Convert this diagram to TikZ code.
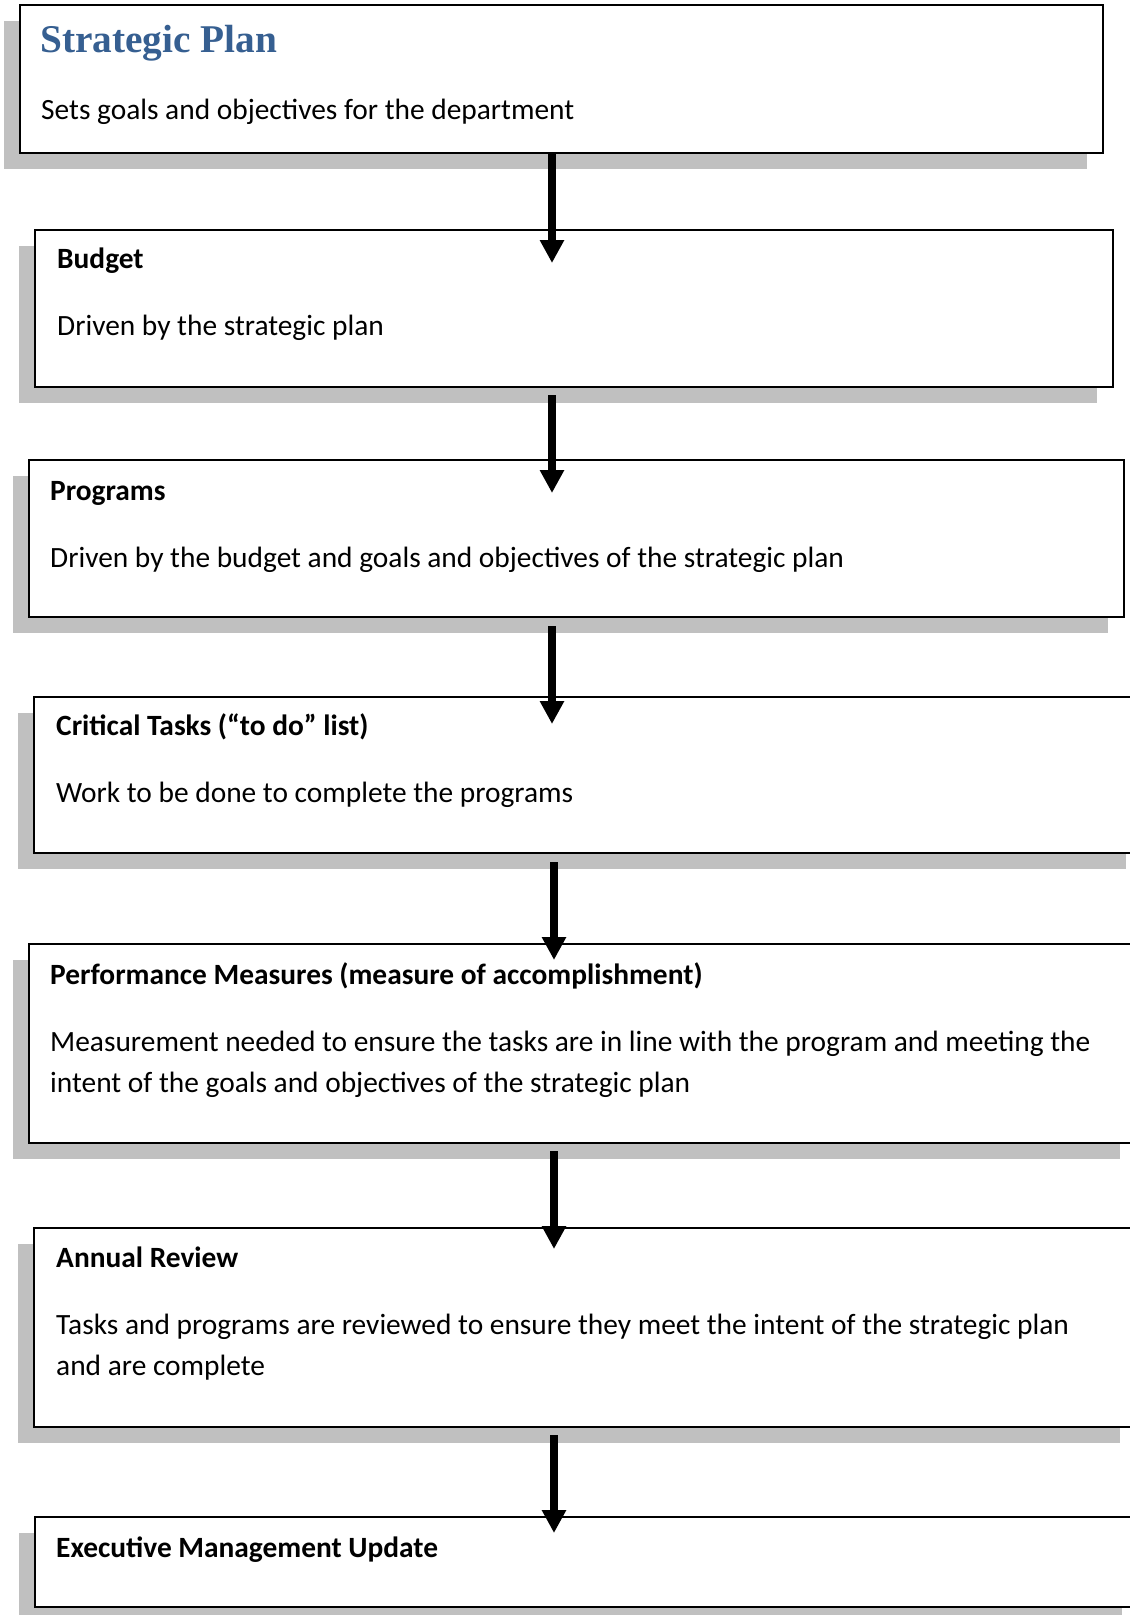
\documentclass[tikz,border=0pt]{standalone}
\usepackage{fontspec}
\setmainfont{Carlito}
\newfontfamily\planfont{Liberation Serif}
\usepackage{tikz}
\usetikzlibrary{arrows.meta,positioning,shadows}
\definecolor{planblue}{RGB}{54,95,145}
\definecolor{shadowgray}{RGB}{192,192,192}
\tikzset{
 stepbox/.style={
 rectangle,
 draw=black,
 line width=2.2pt,
 fill=white,
 anchor=north west,
 inner sep=0pt,
 outer sep=0pt,
 drop shadow={shadow xshift=-16pt, shadow yshift=-16pt, fill=shadowgray, opacity=1}
 },
 boxhead/.style={
 anchor=base west,
 inner sep=0pt,
 font=\fontsize{29.4}{41}\selectfont\bfseries
 },
 boxtext/.style={
 anchor=base west,
 inner sep=0pt,
 align=left,
 font=\fontsize{29.4}{41}\selectfont
 },
 flowarrow/.style={-{Triangle[length=23pt,width=23pt]}, line width=8pt, draw=black}
}

\begin{document}
\begin{tikzpicture}[x=1pt, y=-1pt]
 \useasboundingbox (0,0) rectangle (1130,1615);
 \clip (0,0) rectangle (1130,1615);

 % the seven stages, top to bottom
 \node[stepbox, minimum width=1083pt, minimum height=148pt] (plan) at (20,5) {};
 \node[stepbox, minimum width=1078pt, minimum height=157pt] (budget) at (35,230) {};
 \node[stepbox, minimum width=1095pt, minimum height=157pt] (programs) at (29,460) {};
 \node[stepbox, minimum width=1108pt, minimum height=156pt] (tasks) at (34,697) {};
 \node[stepbox, minimum width=1107pt, minimum height=199pt] (measures) at (29,944) {};
 \node[stepbox, minimum width=1102pt, minimum height=199pt] (review) at (34,1228) {};
 \node[stepbox, minimum width=1103pt, minimum height=90pt] (update) at (35,1517) {};

 % labels (two-line texts sit on the baseline of their last line)
 \node[anchor=base west, inner sep=0pt, text=planblue, font=\fontsize{39.3}{46}\selectfont\planfont\bfseries]
 (planhead) at ([shift={(20,47)}]plan.north west) {Strategic Plan};
 \node[boxtext] (plantext) at ([shift={(21,114)}]plan.north west) {Sets goals and objectives for the department};

 \node[boxhead] (budgethead) at ([shift={(22,38)}]budget.north west) {Budget};
 \node[boxtext] (budgettext) at ([shift={(22,105)}]budget.north west) {Driven by the strategic plan};

 \node[boxhead] (programshead) at ([shift={(21,40)}]programs.north west) {Programs};
 \node[boxtext] (programstext) at ([shift={(21,107)}]programs.north west) {Driven by the budget and goals and objectives of the strategic plan};

 \node[boxhead] (taskshead) at ([shift={(22,38)}]tasks.north west) {Critical Tasks (“to do” list)};
 \node[boxtext] (taskstext) at ([shift={(22,105)}]tasks.north west) {Work to be done to complete the programs};

 \node[boxhead] (measureshead) at ([shift={(21,40)}]measures.north west) {Performance Measures (measure of accomplishment)};
 \node[boxtext] (measurestext) at ([shift={(21,148)}]measures.north west)
 {Measurement needed to ensure the tasks are in line with the program and meeting the\\
 intent of the goals and objectives of the strategic plan};

 \node[boxhead] (reviewhead) at ([shift={(22,39)}]review.north west) {Annual Review};
 \node[boxtext] (reviewtext) at ([shift={(22,147)}]review.north west)
 {Tasks and programs are reviewed to ensure they meet the intent of the strategic plan\\
 and are complete};

 \node[boxhead] (updatehead) at ([shift={(21,40)}]update.north west) {Executive Management Update};

 % arrow tips
 \coordinate (tip1) at (552,263);
 \coordinate (tip2) at (552,493);
 \coordinate (tip3) at (552,724);
 \coordinate (tip4) at (554,960);
 \coordinate (tip5) at (554,1249);
 \coordinate (tip6) at (554,1533);

 \foreach \from/\tip/\gap in {plan/tip1/0, budget/tip2/8, programs/tip3/9, tasks/tip4/9, measures/tip5/8, review/tip6/8} {
 \coordinate (tail) at (\tip |- \from.south);
 \draw[flowarrow] ([yshift=-\gap pt]tail) -- (\tip);
 }
\end{tikzpicture}
\end{document}
